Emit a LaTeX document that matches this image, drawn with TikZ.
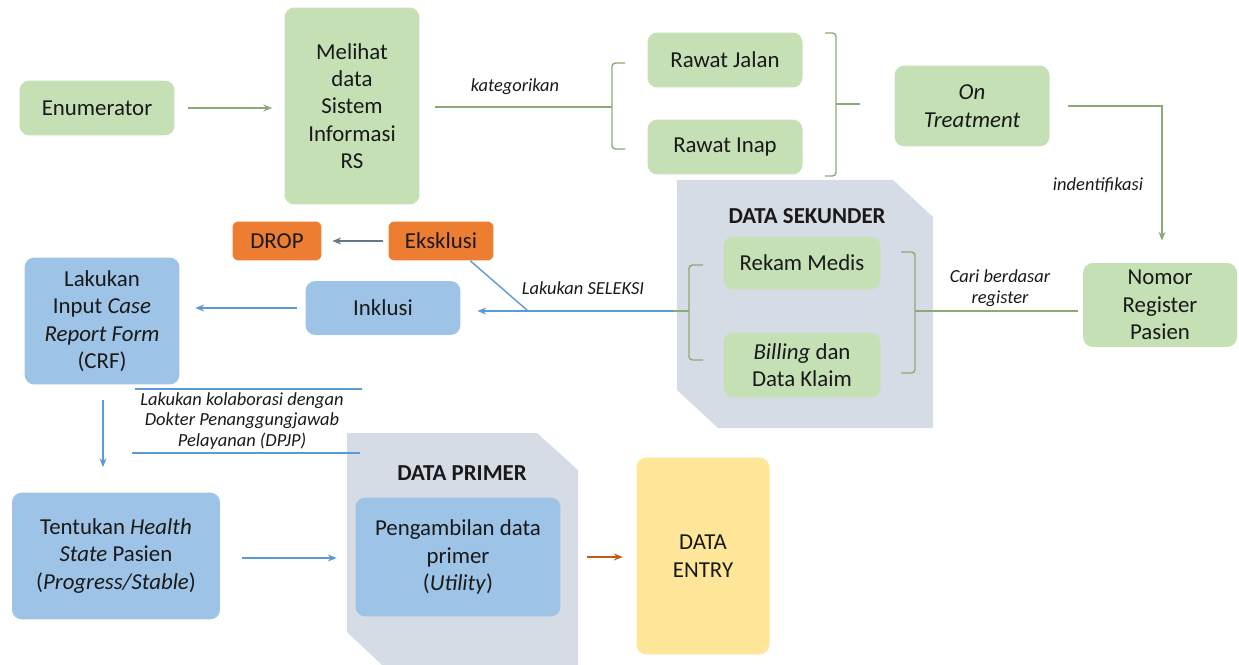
\documentclass[tikz,border=0pt]{standalone}
\usepackage{fontspec}
\setmainfont{Carlito}
\usetikzlibrary{arrows.meta,calc}

\definecolor{gfill}{RGB}{197,224,180}
\definecolor{bfill}{RGB}{157,195,230}
\definecolor{ofill}{RGB}{237,125,49}
\definecolor{yfill}{RGB}{255,230,153}
\definecolor{panel}{RGB}{214,220,229}
\definecolor{txt}{RGB}{25,25,25}
\definecolor{gline}{RGB}{140,170,115}
\definecolor{bline}{RGB}{91,155,213}
\definecolor{dline}{RGB}{100,120,140}
\definecolor{oline}{RGB}{197,90,17}

\begin{document}
\begin{tikzpicture}[x=0.02cm,y=-0.02cm,
  box/.style={rounded corners=0.2cm, align=center, inner sep=2pt, text=txt,
    font=\fontsize{13}{15.6}\selectfont},
  gbox/.style={box, fill=gfill},
  bbox/.style={box, fill=bfill},
  obox/.style={box, fill=ofill, rounded corners=0.12cm},
  ybox/.style={box, fill=yfill},
  ttl/.style={text=txt, font=\fontsize{13}{15.6}\selectfont\bfseries},
  lbl/.style={text=txt, align=center, font=\fontsize{10.5}{12}\selectfont\itshape},
  tip/.style={-{Stealth[length=5pt,width=4pt]}},
  gl/.style={draw=gline, line width=0.8pt},
  bl/.style={draw=bline, line width=0.8pt},
  garr/.style={gl, tip},
  barr/.style={bl, tip},
  darr/.style={draw=dline, line width=0.8pt, tip},
  oarr/.style={draw=oline, line width=0.8pt, tip},
  brk/.style={gl, rounded corners=2pt}]

\path[use as bounding box] (0,0) rectangle (1239,665);

% grouping panels
\fill[panel] (677,180) -- (893,180) -- (933,217) -- (933,428) -- (718,428) -- (677,390) -- cycle;
\fill[panel] (347,433) -- (537,433) -- (578,470) -- (578,665) -- (382,665) -- (347,632) -- cycle;

% top row
\node[gbox, minimum width=3.1cm, minimum height=1.1cm] (enum) at (97,108) {Enumerator};
\node[gbox, minimum width=2.7cm, minimum height=3.94cm] (lihat) at (352,106)
  {Melihat\\data\\Sistem\\Informasi\\RS};
\node[gbox, minimum width=3.1cm, minimum height=1.1cm] (rjalan) at (725,60) {Rawat Jalan};
\node[gbox, minimum width=3.1cm, minimum height=1.1cm] (rinap) at (725,147) {Rawat Inap};
\node[gbox, minimum width=3.1cm, minimum height=1.62cm] (ontr) at (972,106)
  {\textit{On}\\\textit{Treatment}};
\node[gbox, minimum width=3.08cm, minimum height=1.68cm] (nomor) at (1160,305)
  {Nomor\\Register\\Pasien};

% secondary data
\node[ttl] (tsek) at (807,216) {DATA SEKUNDER};
\node[gbox, minimum width=3.14cm, minimum height=1.06cm] (rekam) at (802,263) {Rekam Medis};
\node[gbox, minimum width=3.14cm, minimum height=1.3cm] (bill) at (802,365)
  {\textit{Billing} dan\\Data Klaim};

% selection
\node[obox, minimum width=2.1cm, minimum height=0.78cm] (eks) at (441,241) {Eksklusi};
\node[obox, minimum width=1.78cm, minimum height=0.78cm] (drop) at (277,241) {DROP};
\node[bbox, minimum width=3.1cm, minimum height=1.08cm] (inkl) at (383,308) {Inklusi};
\node[bbox, minimum width=3.1cm, minimum height=2.54cm] (crf) at (102,321)
  {Lakukan\\Input \textit{Case}\\\textit{Report Form}\\(CRF)};
\node[bbox, minimum width=4.16cm, minimum height=2.54cm] (hs) at (116,556)
  {Tentukan \textit{Health}\\\textit{State} Pasien\\(\textit{Progress/Stable})};

% primary data
\node[ttl] (tpri) at (462,473) {DATA PRIMER};
\node[bbox, minimum width=4.1cm, minimum height=2.38cm] (ambil) at (458,557)
  {Pengambilan data\\primer\\(\textit{Utility})};
\node[ybox, minimum width=2.66cm, minimum height=3.94cm] (entry) at (703,556) {DATA\\ENTRY};

% Enumerator -> SIM RS
\draw[garr] ([xshift=0.26cm]enum.east) -- ([xshift=-0.24cm]enum.east -| lihat.west);

% categorisation bracket
\coordinate (kb) at (612,107);
\draw[gl] ([xshift=0.3cm]lihat.east |- kb) -- (kb);
\draw[brk] (625,63) -- (612,63) -- (612,149) -- (625,149);
\node[lbl] (lkat) at (515,87) {kategorikan};

% both care types -> On Treatment
\coordinate (rb) at (836,104);
\draw[brk] (825,33) -- (836,33) -- (836,176) -- (825,176);
\draw[gl] (rb) -- ([xshift=-0.69cm]ontr.west |- rb);

% On Treatment -> Nomor Register
\draw[garr] ([xshift=0.37cm]ontr.east) -| ([xshift=0.04cm,yshift=0.44cm]nomor.north);
\node[lbl] (lind) at (1098,185) {indentifikasi};

% Nomor Register -> secondary data
\coordinate (sb) at (915,311);
\draw[gl] ([xshift=-0.1cm]sb -| nomor.west) -- (sb);
\draw[brk] (901,252) -- (915,252) -- (915,373) -- (901,373);
\node[lbl] (lcari) at (1000,288) {Cari berdasar\\register};

% selection from secondary data
\coordinate (sl) at (689,311);
\coordinate (sj) at (673,311);
\coordinate (ej) at (528,311);
\draw[brk] (703,265) -- (689,265) -- (689,360) -- (703,360);
\draw[gl] (sl) -- (sj);
\draw[barr] (sj) -- ([xshift=0.33cm]sj -| inkl.east);
\draw[bl] ([xshift=-0.47cm]eks.south east) -- (ej);
\node[lbl] (lsel) at (583,288) {Lakukan SELEKSI};

\draw[darr] ([xshift=-0.11cm]eks.west) -- ([xshift=0.21cm]drop.east);
\draw[barr] ([xshift=-0.17cm]inkl.west) -- ([xshift=0.31cm]crf.east |- inkl.west);

% CRF -> health state
\draw[barr] ([xshift=0.02cm,yshift=-0.31cm]crf.south) -- ([xshift=0.02cm,yshift=0.5cm]crf.south |- hs.north);
\node[lbl, font=\fontsize{10.5}{11.6}\selectfont\itshape] (ldpjp) at (242,421)
  {Lakukan kolaborasi dengan\\Dokter Penanggungjawab\\Pelayanan (DPJP)};
\draw[bl, line width=0.6pt] (135,389) -- (362,389);
\draw[bl, line width=0.6pt] (132,453) -- (360,453);

% health state -> primary data -> data entry
\draw[barr] ([xshift=0.44cm,yshift=-0.04cm]hs.east) -- ([xshift=-0.37cm,yshift=-0.04cm]hs.east -| ambil.west);
\draw[oarr] ([xshift=0.53cm]ambil.east) -- ([xshift=-0.27cm]ambil.east -| entry.west);

\end{tikzpicture}
\end{document}
